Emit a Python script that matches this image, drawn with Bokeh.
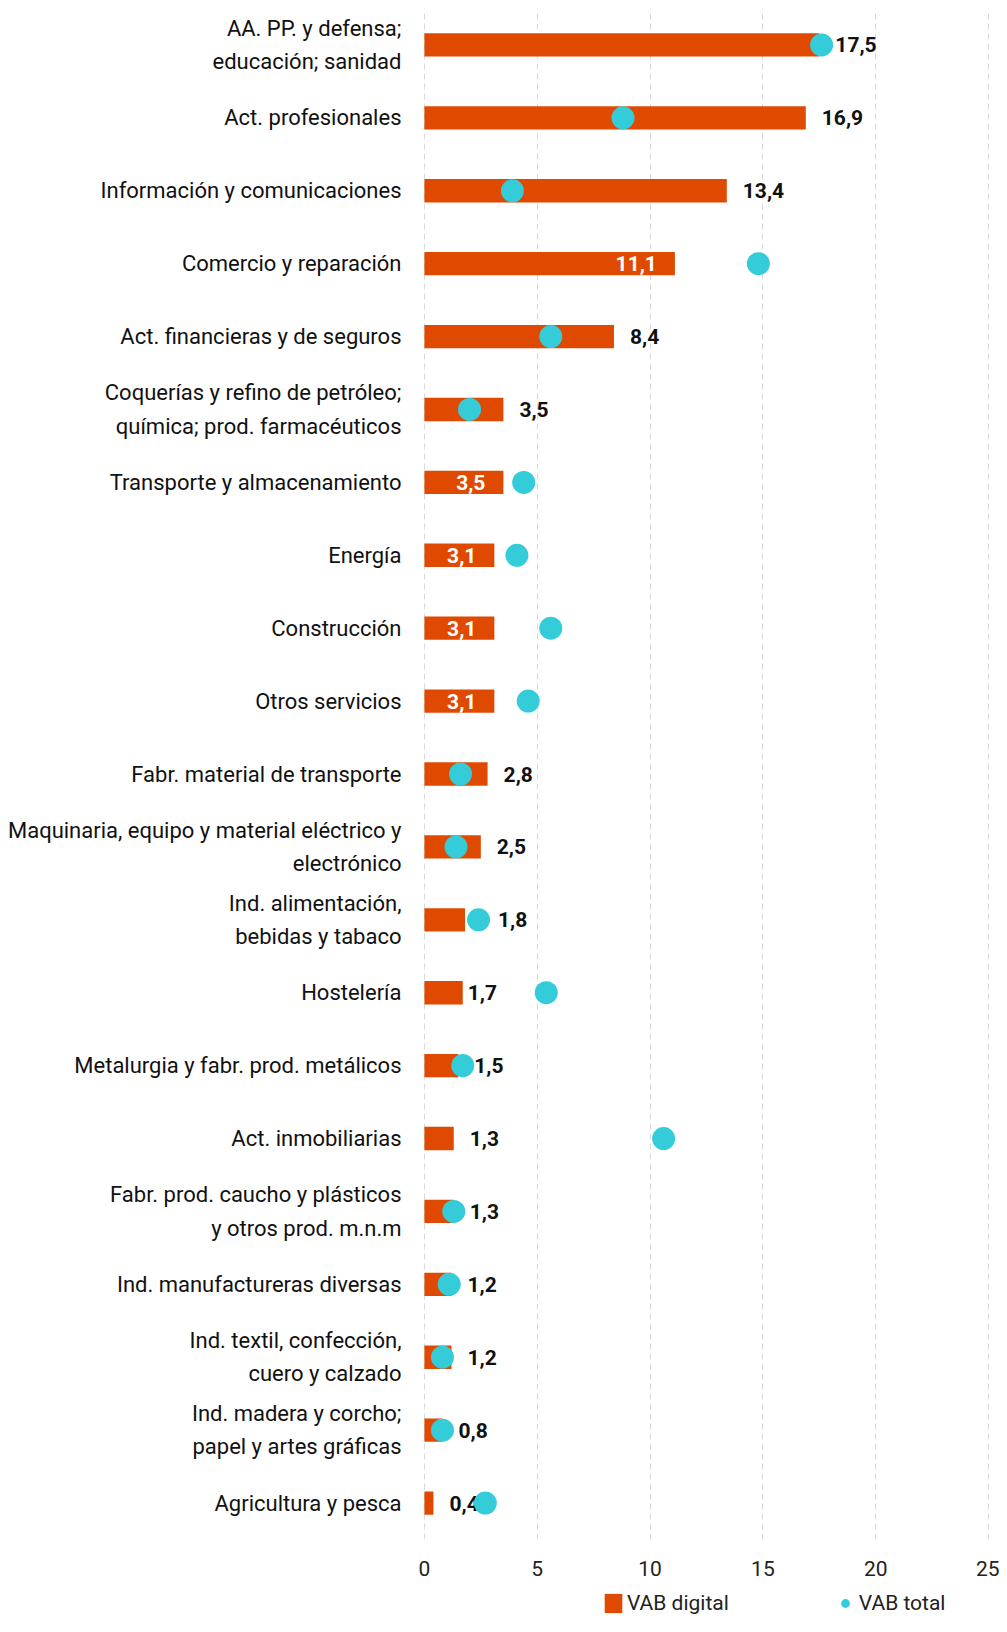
from bokeh.plotting import figure
from bokeh.layouts import column
from bokeh.models import ColumnDataSource, FactorRange, Range1d, Legend, LegendItem, FixedTicker
from bokeh.embed import file_html
from bokeh.resources import INLINE
from bokeh.core.properties import value

# ---------------- data ----------------
sectors = [
    "AA. PP. y defensa;\neducación; sanidad",
    "Act. profesionales",
    "Información y comunicaciones",
    "Comercio y reparación",
    "Act. financieras y de seguros",
    "Coquerías y refino de petróleo;\nquímica; prod. farmacéuticos",
    "Transporte y almacenamiento",
    "Energía",
    "Construcción",
    "Otros servicios",
    "Fabr. material de transporte",
    "Maquinaria, equipo y material eléctrico y\nelectrónico",
    "Ind. alimentación,\nbebidas y tabaco",
    "Hostelería",
    "Metalurgia y fabr. prod. metálicos",
    "Act. inmobiliarias",
    "Fabr. prod. caucho y plásticos\ny otros prod. m.n.m",
    "Ind. manufactureras diversas",
    "Ind. textil, confección,\ncuero y calzado",
    "Ind. madera y corcho;\npapel y artes gráficas",
    "Agricultura y pesca",
]
vab_digital = [17.5, 16.9, 13.4, 11.1, 8.4, 3.5, 3.5, 3.1, 3.1, 3.1, 2.8,
               2.5, 1.8, 1.7, 1.5, 1.3, 1.3, 1.2, 1.2, 0.8, 0.4]
vab_total = [17.6, 8.8, 3.9, 14.8, 5.6, 2.0, 4.4, 4.1, 5.6, 4.6, 1.6,
             1.4, 2.4, 5.4, 1.7, 10.6, 1.3, 1.1, 0.8, 0.8, 2.7]
# which value labels sit inside the bar (white text)
label_inside = [False, False, False, True, False, False, True, True, True, True, False,
                False, False, False, False, False, False, False, False, False, False]
x_ticks = [0, 5, 10, 15, 20, 25]
series_names = ["VAB digital", "VAB total"]

# ---------------- style ----------------
BAR_COLOR = "#E04A00"
DOT_COLOR = "#33CCD8"
FONT = "Roboto"
LABEL_GAP = 16
# manual nudges (px) of a few value labels, as in the original chart
label_nudge = {12: 17, 13: -11}

labels = [f"{v:.1f}".replace(".", ",") for v in vab_digital]

src = ColumnDataSource(dict(sector=sectors, digital=vab_digital, total=vab_total, label=labels))
out_idx = [i for i, f in enumerate(label_inside) if not f]
in_idx = [i for i, f in enumerate(label_inside) if f]
src_out = ColumnDataSource(dict(sector=[sectors[i] for i in out_idx],
                                digital=[vab_digital[i] for i in out_idx],
                                label=[labels[i] for i in out_idx],
                                dx=[LABEL_GAP + label_nudge.get(i, 0) for i in out_idx]))
src_in = ColumnDataSource(dict(sector=[sectors[i] for i in in_idx],
                               digital=[vab_digital[i] for i in in_idx],
                               label=[labels[i] for i in in_idx]))

W = 999
LEFT = 423
p = figure(
    width=W, height=1590,
    y_range=FactorRange(factors=list(reversed(sectors))),
    x_range=Range1d(-0.04, 25.04),
    output_backend="svg", toolbar_location=None,
    min_border_left=LEFT, min_border_right=10, min_border_top=8, min_border_bottom=51,
)
p.outline_line_color = None
p.background_fill_color = "white"
p.border_fill_color = "white"

bars = p.hbar(y="sector", right="digital", left=0, height=0.32, source=src,
              fill_color=BAR_COLOR, line_color=None)

p.text(x="digital", y="sector", text="label", source=src_out,
       text_font=value(FONT), text_font_style="bold", text_font_size="21px",
       text_color="#111111", text_align="left", text_baseline="middle", x_offset="dx")
p.text(x="digital", y="sector", text="label", source=src_in,
       text_font=value(FONT), text_font_style="bold", text_font_size="21px",
       text_color="white", text_align="right", text_baseline="middle", x_offset=-18)

dots = p.scatter(x="total", y="sector", source=src, size=23, marker="circle",
                 fill_color=DOT_COLOR, line_color=None)

# axes
p.xaxis.ticker = FixedTicker(ticks=x_ticks)
p.xaxis.axis_line_color = None
p.xaxis.major_tick_line_color = None
p.xaxis.minor_tick_line_color = None
p.xaxis.major_tick_out = 0
p.xaxis.major_label_standoff = 21
p.xaxis.major_label_text_font = FONT
p.xaxis.major_label_text_font_size = "21px"
p.xaxis.major_label_text_color = "#222222"

p.yaxis.axis_line_color = None
p.yaxis.major_tick_line_color = None
p.yaxis.minor_tick_line_color = None
p.yaxis.major_tick_out = 0
p.yaxis.major_label_standoff = 22
p.yaxis.major_label_text_font = FONT
p.yaxis.major_label_text_font_size = "22px"
p.yaxis.major_label_text_color = "#111111"
p.yaxis.major_label_text_line_height = 1.33

p.ygrid.grid_line_color = None
p.xgrid.grid_line_color = "#D9D9D9"
p.xgrid.grid_line_dash = "6 4"
p.xgrid.grid_line_width = 1

# ---------------- legend strip ----------------
leg = figure(width=W, height=26, x_range=Range1d(0, 1), y_range=Range1d(0, 1),
             x_axis_location=None, y_axis_location=None,
             output_backend="svg", toolbar_location=None,
             min_border_left=LEFT, min_border_right=10, min_border_top=0, min_border_bottom=0)
leg.grid.grid_line_color = None
leg.outline_line_color = None
# legend-only samples (zero width / outside the strip's range, so nothing is drawn in it)
leg_bar = leg.hbar(y=[0.5], right=[0], left=0, height=0.3, fill_color=BAR_COLOR, line_color=None)
leg_dot = leg.scatter(x=[-1], y=[0.5], marker="circle", size=10, fill_color=DOT_COLOR, line_color=None)

legend = Legend(
    items=[LegendItem(label=series_names[0], renderers=[leg_bar]),
           LegendItem(label=series_names[1], renderers=[leg_dot])],
    orientation="horizontal", location=(602 - LEFT, 1),
    glyph_width=22, glyph_height=24, label_height=24, label_standoff=3,
    spacing=105, padding=0, margin=0,
    border_line_color=None, background_fill_alpha=0,
    label_text_font=FONT, label_text_font_size="21px", label_text_color="#222222",
)
leg.add_layout(legend, "center")

open("out.html", "w").write(file_html(column(p, leg, spacing=0), INLINE))
